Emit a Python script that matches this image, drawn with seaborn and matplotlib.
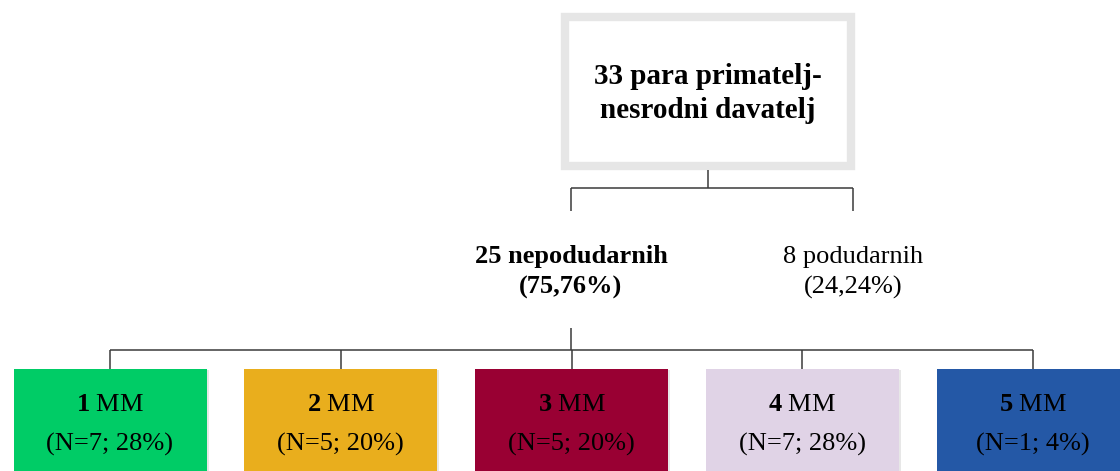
import matplotlib
matplotlib.use("Agg")
import matplotlib.pyplot as plt
import matplotlib.patches as mpatches
import matplotlib.patheffects as pe
import seaborn as sns

# tree data
root_pairs = 33
root_text = ["para primatelj-", "nesrodni davatelj"]
branch_counts = [25, 8]
branch_names = ["nepodudarnih", "podudarnih"]
branch_pct = ["75,76%", "24,24%"]
mm_levels = [1, 2, 3, 4, 5]
mm_counts = [7, 5, 5, 7, 1]
mm_pct = [28, 20, 20, 28, 4]
mm_colors = ["#00cc66", "#e9ae1d", "#990033", "#e0d3e6", "#2458a6"]

sns.set_theme(style="white")
plt.rcParams["font.family"] = ["Liberation Serif", "DejaVu Serif"]
plt.rcParams["text.color"] = "black"
plt.rcParams["mathtext.fontset"] = "custom"
plt.rcParams["mathtext.rm"] = "Liberation Serif"
plt.rcParams["mathtext.bf"] = "Liberation Serif:bold"

fig = plt.figure(figsize=(11.2, 4.71), dpi=100)
ax = fig.add_axes([0, 0, 1, 1])
ax.set_xlim(0, 1120)
ax.set_ylim(471, 0)
ax.axis("off")

line_kw = dict(color="#3a3a3a", lw=1.1, solid_capstyle="butt")

# root box
ax.add_patch(mpatches.Rectangle((565, 17), 286, 149, facecolor="white",
                                edgecolor="#e6e6e6", lw=6))
ax.text(708, 84, f"{root_pairs} {root_text[0]}", ha="center", va="baseline",
        fontsize=21, fontweight="bold")
ax.text(708, 118, root_text[1], ha="center", va="baseline",
        fontsize=21, fontweight="bold")

# root -> branches
branch_x = [571, 853]
ax.plot([708, 708], [170, 188], **line_kw)
ax.plot([branch_x[0], branch_x[1]], [188, 188], **line_kw)
for bx in branch_x:
    ax.plot([bx, bx], [188, 211], **line_kw)

for i, bx in enumerate(branch_x):
    weight = "bold" if i == 0 else "normal"
    ax.text(bx, 263, f"{branch_counts[i]} {branch_names[i]}", ha="center",
            va="baseline", fontsize=19, fontweight=weight)
    ax.text(bx, 294, f"({branch_pct[i]})", ha="center", va="baseline",
            fontsize=19, fontweight=weight)

# mismatch level boxes
centers = [110 + i * 230.75 for i in range(len(mm_levels))]
ax.plot([branch_x[0], branch_x[0]], [328, 350], **line_kw)
ax.plot([centers[0], centers[-1]], [350, 350], **line_kw)
box_w = 193
for c, lvl, n, p, col in zip(centers, mm_levels, mm_counts, mm_pct, mm_colors):
    ax.plot([c, c], [350, 369], **line_kw)
    r = mpatches.Rectangle((c - box_w / 2, 369), box_w, 120, facecolor=col,
                           edgecolor="none")
    r.set_path_effects([pe.SimplePatchShadow(offset=(1.5, -1), shadow_rgbFace="#888888",
                                             alpha=0.2), pe.Normal()])
    ax.add_patch(r)
    ax.text(c, 411, rf"$\mathbf{{{lvl}}}$ MM", ha="center", va="baseline",
            fontsize=19, color="black")
    ax.text(c, 451, f"(N={n}; {p}%)", ha="center", va="baseline",
            fontsize=19, color="black")

fig.savefig("out.png", dpi=100)
